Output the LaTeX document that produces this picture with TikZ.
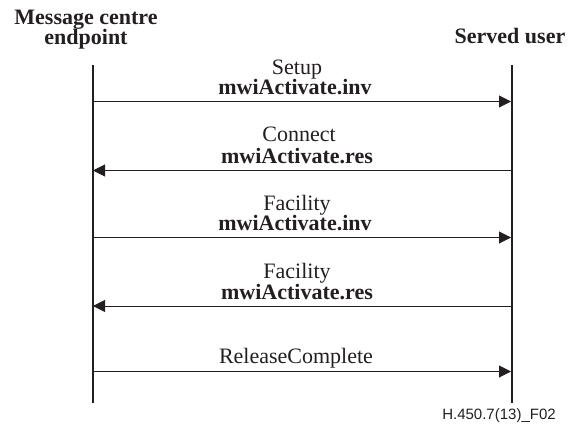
\documentclass[tikz,border=0pt]{standalone}
\usepackage{fontspec}
\setmainfont{Liberation Serif}
\newfontfamily\arialfont{Liberation Sans}
\usetikzlibrary{arrows.meta}
\definecolor{ink}{HTML}{231F20}
\tikzset{
  lifeline/.style={draw=ink, line width=2pt},
  msg/.style={draw=ink, line width=1pt, -{Triangle[length=12pt,width=12pt]}},
  plain/.style={anchor=base, inner sep=0pt, font=\fontsize{22}{22}\selectfont, text=ink},
  boldlbl/.style={anchor=base, inner sep=0pt, font=\fontsize{22}{22}\selectfont\bfseries, text=ink},
  footer/.style={anchor=base, inner sep=0pt, font=\arialfont\fontsize{15}{15}\selectfont, text=ink}
}
\begin{document}
\begin{tikzpicture}[x=1pt,y=-1pt]
\useasboundingbox (0,0) rectangle (570,425);
% headers
\node[boldlbl] (h1a) at (86,25) {Message centre};
\node[boldlbl] (h1b) at (86,45) {endpoint};
\node[boldlbl] (h2) at (510,44) {Served user};
% lifelines
\coordinate (ltop) at (93,65);
\coordinate (lbot) at (93,403);
\coordinate (rtop) at (512,65);
\coordinate (rbot) at (512,403);
\draw[lifeline] (ltop) -- (lbot);
\draw[lifeline] (rtop) -- (rbot);
% message end points
\foreach \n/\y in {1/101.5,2/170.5,3/237.5,4/306,5/371.5}{
  \coordinate (l\n) at (93,\y);
  \coordinate (r\n) at (511,\y);
}
\draw[msg] (l1) -- (r1);
\draw[msg] (r2) -- (l2);
\draw[msg] (l3) -- (r3);
\draw[msg] (r4) -- (l4);
\draw[msg] (l5) -- (r5);
% labels
\node[plain] (m1a) at (297,75) {Setup};
\node[boldlbl] (m1b) at (295,95) {mwiActivate.inv};
\node[plain] (m2a) at (299,142) {Connect};
\node[boldlbl] (m2b) at (297,163) {mwiActivate.res};
\node[plain] (m3a) at (297,210) {Facility};
\node[boldlbl] (m3b) at (295,230) {mwiActivate.inv};
\node[plain] (m4a) at (297,278) {Facility};
\node[boldlbl] (m4b) at (297,299) {mwiActivate.res};
\node[plain] (m5) at (296,363) {ReleaseComplete};
% footer
\node[footer] (f) at (499,419) {H.450.7(13)\_F02};
\end{tikzpicture}
\end{document}
